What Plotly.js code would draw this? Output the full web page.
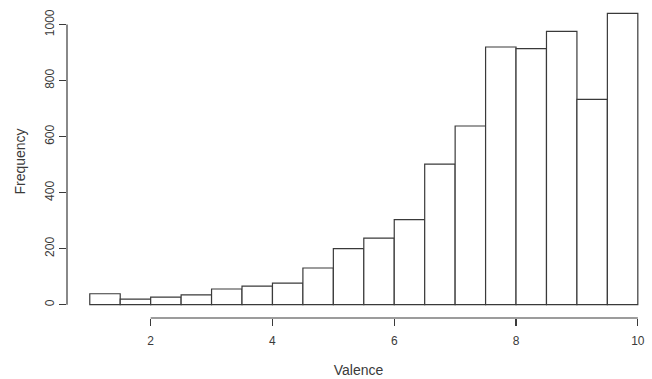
<!DOCTYPE html>
<html>
<head>
<meta charset="utf-8">
<script src="https://cdn.plot.ly/plotly-3.0.1.min.js"></script>
<style>html,body{margin:0;padding:0;background:#fff;}#chart{width:652px;height:379px;}</style>
</head>
<body>
<div id="chart"></div>
<script>
// Histogram of Valence: bin left edges (width 0.5) and counts
const binStarts = [1, 1.5, 2, 2.5, 3, 3.5, 4, 4.5, 5, 5.5, 6, 6.5, 7, 7.5, 8, 8.5, 9, 9.5];
const counts    = [39, 20, 27, 35, 56, 66, 77, 131, 200, 238, 304, 502, 638, 920, 914, 976, 733, 1040];
const binWidth = 0.5;
const xTicks = [2, 4, 6, 8, 10];
const yTicks = [0, 200, 400, 600, 800, 1000];

const axisColor = '#3a3a3a';
const textColor = '#3a3a3a';

const trace = {
  type: 'bar',
  x: binStarts,
  y: counts,
  width: binStarts.map(() => binWidth),
  offset: 0,
  marker: { color: '#ffffff', line: { color: axisColor, width: 1.2 } },
  hoverinfo: 'x+y'
};

const layout = {
  width: 652, height: 379,
  margin: { l: 67, r: 2, t: 5, b: 61 },
  paper_bgcolor: '#fff', plot_bgcolor: '#fff',
  showlegend: false,
  font: { family: 'Liberation Sans, Arial, sans-serif', color: textColor, size: 12 },
  xaxis: {
    range: [0.626, 10.2],
    tickvals: xTicks, ticktext: xTicks.map(String),
    ticks: 'outside', ticklen: 7, tickcolor: axisColor, tickwidth: 1.2,
    ticklabelstandoff: 5,
    showline: false, showgrid: false, zeroline: false,
    tickfont: { size: 12, color: textColor },
    title: { text: 'Valence', font: { size: 14, color: textColor }, standoff: 17 }
  },
  yaxis: {
    range: [-47.5, 1070],
    tickvals: yTicks, ticktext: yTicks.map(String),
    tickangle: -90,
    ticks: 'outside', ticklen: 7, tickcolor: axisColor, tickwidth: 1.2,
    showline: false, showgrid: false, zeroline: false,
    tickfont: { size: 12, color: textColor },
    title: { text: 'Frequency', font: { size: 14, color: textColor }, standoff: 14 }
  },
  shapes: [
    { type: 'line', xref: 'x', yref: 'paper', x0: xTicks[0], x1: xTicks[xTicks.length - 1], y0: 0, y1: 0,
      line: { color: axisColor, width: 1.2 } },
    { type: 'line', xref: 'paper', yref: 'y', x0: 0, x1: 0, y0: yTicks[0], y1: yTicks[yTicks.length - 1],
      line: { color: axisColor, width: 1.2 } }
  ]
};

Plotly.newPlot('chart', [trace], layout, { displayModeBar: false, staticPlot: true });
</script>
</body>
</html>
